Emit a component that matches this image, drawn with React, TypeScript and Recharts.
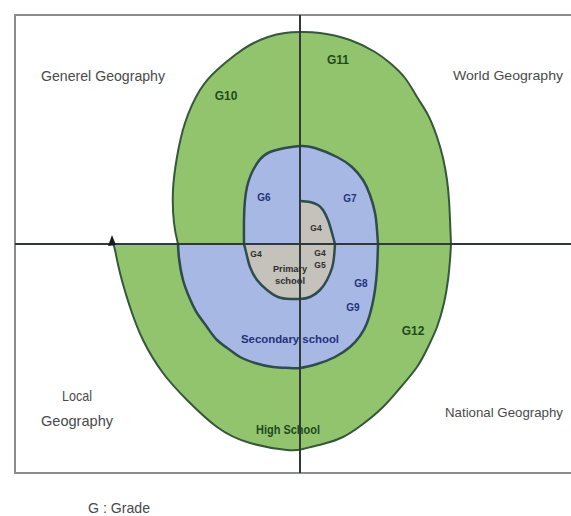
import React from "react";
import {
  ComposedChart,
  Area,
  Scatter,
  XAxis,
  YAxis,
  ReferenceLine,
  ReferenceArea,
} from "recharts";

// spiral edges; origin where the two axes cross, y up.
// points follow the edge in drawing order (natural curve is parametric)
const greenTop = [
  { x: -122, y: 0 }, { x: -126, y: 21 }, { x: -127, y: 54 }, { x: -123, y: 87 },
  { x: -115, y: 121 }, { x: -100, y: 154 }, { x: -83, y: 174 },
  { x: -65, y: 189 }, { x: -50, y: 199 }, { x: -32, y: 207 }, { x: -15, y: 211 },
  { x: 0, y: 212 }, { x: 20, y: 211 }, { x: 50, y: 204 }, { x: 75, y: 192 },
  { x: 90, y: 181 }, { x: 105, y: 166 }, { x: 117, y: 147 }, { x: 128, y: 129 },
  { x: 137, y: 107 }, { x: 143, y: 86 }, { x: 147, y: 64 }, { x: 149, y: 44 },
  { x: 150, y: 24 }, { x: 151, y: 0 },
];
const greenBottom = [
  { x: -187, y: 0 }, { x: -185, y: -6 }, { x: -180, y: -29 }, { x: -170, y: -63 },
  { x: -157, y: -96 }, { x: -137, y: -129 }, { x: -113, y: -156 }, { x: -83, y: -183 },
  { x: -50, y: -199 }, { x: -13, y: -206 }, { x: 3, y: -205 }, { x: 23, y: -200 },
  { x: 43, y: -193 }, { x: 63, y: -180 }, { x: 83, y: -163 }, { x: 100, y: -144 },
  { x: 117, y: -123 }, { x: 128, y: -103 }, { x: 137, y: -83 }, { x: 144, y: -59 },
  { x: 148, y: -36 }, { x: 150, y: -16 }, { x: 151, y: 0 },
];
const blueTop = [
  { x: -56, y: 0 }, { x: -56, y: 24 }, { x: -53, y: 57 }, { x: -42, y: 82 },
  { x: -30, y: 92 }, { x: -15, y: 96 }, { x: 0, y: 98 },
  { x: 15, y: 96 }, { x: 37, y: 87 }, { x: 52, y: 77 }, { x: 63, y: 64 },
  { x: 70, y: 49 }, { x: 75, y: 31 }, { x: 77, y: 14 }, { x: 78, y: 0 },
];
const blueBottom = [
  { x: -122, y: 0 }, { x: -121, y: -14 }, { x: -117, y: -36 }, { x: -110, y: -55 },
  { x: -103, y: -69 }, { x: -93, y: -83 }, { x: -83, y: -96 }, { x: -70, y: -106 },
  { x: -60, y: -113 }, { x: -45, y: -119 }, { x: -27, y: -123 }, { x: -10, y: -124 },
  { x: 0, y: -124 }, { x: 17, y: -120 }, { x: 35, y: -113 }, { x: 50, y: -103 },
  { x: 60, y: -92 }, { x: 67, y: -79 }, { x: 72, y: -62 }, { x: 75, y: -46 },
  { x: 77, y: -26 }, { x: 78, y: 0 },
];
const grayTop = [
  { x: 0, y: 43 }, { x: 10, y: 42 }, { x: 18, y: 39 }, { x: 23, y: 34 },
  { x: 28, y: 24 }, { x: 32, y: 11 }, { x: 35, y: 0 },
];
const grayBottom = [
  { x: -56, y: 0 }, { x: -53, y: -12 }, { x: -50, y: -23 }, { x: -43, y: -36 },
  { x: -33, y: -46 }, { x: -22, y: -53 }, { x: -10, y: -55 }, { x: 0, y: -55 },
  { x: 10, y: -53 }, { x: 20, y: -46 }, { x: 27, y: -36 }, { x: 32, y: -24 },
  { x: 34, y: -13 }, { x: 35, y: 0 },
];
const spiralEnd = [{ x: -187, y: 0 }];

// labels
const quadrantLabels = [
  { x: -197, y: 169, t: "Generel Geography" },
  { x: -223, y: -151, t: "Local" },
  { x: -223, y: -176, t: "Geography" },
  { x: -181, y: -263, t: "G : Grade" },
];
const rightLabels = [
  { x: 208, y: 169, t: "World Geography" },
  { x: 204, y: -168, t: "National Geography" },
];
const highLabels = [
  { x: -74, y: 148, t: "G10" },
  { x: 38, y: 184, t: "G11" },
  { x: 113, y: -87, t: "G12" },
  { x: -12, y: -186, t: "High School" },
];
const secondaryLabels = [
  { x: -36, y: 47, t: "G6" },
  { x: 50, y: 46, t: "G7" },
  { x: 61, y: -39, t: "G8" },
  { x: 53, y: -63, t: "G9" },
  { x: -10, y: -95, t: "Secondary school" },
];
const primaryLabels = [
  { x: 16, y: 16, t: "G4" },
  { x: -44, y: -10, t: "G4" },
  { x: 20, y: -9, t: "G4" },
  { x: 20, y: -21, t: "G5" },
  { x: -10, y: -25, t: "Primary" },
  { x: -10, y: -37, t: "school" },
];

const textWidth: Record<string, number> = {
  "Generel Geography": 124,
  "World Geography": 110,
  "National Geography": 118,
  Local: 30,
  Geography: 72,
  "G : Grade": 62,
  "High School": 64,
  "Secondary school": 98,
  Primary: 34,
  school: 30,
};

const makeLabel =
  (fill: string, size: number, weight: string | number) => (props: any) => {
    const { cx, cy, payload } = props;
    const w = textWidth[payload.t];
    return (
      <text
        x={cx}
        y={cy}
        textAnchor="middle"
        dominantBaseline="central"
        fill={fill}
        fontSize={size}
        fontWeight={weight}
        fontFamily="'Liberation Sans Narrow', 'Liberation Sans', Arial, sans-serif"
        textLength={w}
        lengthAdjust={w ? "spacingAndGlyphs" : undefined}
      >
        {payload.t}
      </text>
    );
  };

const arrowHead = (props: any) => {
  const { cx, cy } = props;
  return (
    <path
      d={`M${cx - 1},${cy - 9} L${cx - 5},${cy + 2} L${cx + 3},${cy + 1} Z`}
      fill="#1a1a1a"
    />
  );
};

const EDGE = "#2e4b4e";
const GREEN_EDGE = "#35573a";

export default function App() {
  return (
    <div style={{ position: "absolute", left: 0, top: 0, background: "#fff" }}>
      <ComposedChart width={571} height={516} margin={{ top: 0, right: 0, bottom: 0, left: 0 }}>
        <XAxis dataKey="x" type="number" domain={[-300, 271]} allowDataOverflow hide />
        <YAxis dataKey="y" type="number" domain={[-272, 244]} allowDataOverflow hide />
        <ReferenceArea
          x1={-285}
          x2={285}
          y1={-229}
          y2={229}
          fill="none"
          stroke="#8c8c8c"
          strokeWidth={2}
          ifOverflow="visible"
        />
        <Area data={greenTop} dataKey="y" type="natural" baseValue={0} fill="#92c46e" fillOpacity={1} stroke={GREEN_EDGE} strokeWidth={2} dot={false} activeDot={false} isAnimationActive={false} />
        <Area data={greenBottom} dataKey="y" type="natural" baseValue={0} fill="#92c46e" fillOpacity={1} stroke={GREEN_EDGE} strokeWidth={2} dot={false} activeDot={false} isAnimationActive={false} />
        <Area data={blueTop} dataKey="y" type="natural" baseValue={0} fill="#a8b8e4" fillOpacity={1} stroke={EDGE} strokeWidth={2.5} dot={false} activeDot={false} isAnimationActive={false} />
        <Area data={blueBottom} dataKey="y" type="natural" baseValue={0} fill="#a8b8e4" fillOpacity={1} stroke={EDGE} strokeWidth={2.5} dot={false} activeDot={false} isAnimationActive={false} />
        <Area data={grayTop} dataKey="y" type="natural" baseValue={0} fill="#c5c1bb" fillOpacity={1} stroke={EDGE} strokeWidth={2.5} dot={false} activeDot={false} isAnimationActive={false} />
        <Area data={grayBottom} dataKey="y" type="natural" baseValue={0} fill="#c5c1bb" fillOpacity={1} stroke={EDGE} strokeWidth={2.5} dot={false} activeDot={false} isAnimationActive={false} />
        <ReferenceLine
          segment={[{ x: 0, y: 229 }, { x: 0, y: -229 }]}
          stroke="#2f3a3a"
          strokeWidth={2}
          ifOverflow="visible"
        />
        <ReferenceLine
          segment={[{ x: -285, y: 0 }, { x: 285, y: 0 }]}
          stroke="#2f3a3a"
          strokeWidth={2}
          ifOverflow="visible"
        />
        <Scatter data={spiralEnd} shape={arrowHead} isAnimationActive={false} />
        <Scatter data={quadrantLabels} shape={makeLabel("#4a4a4a", 15, "normal")} isAnimationActive={false} />
        <Scatter data={rightLabels} shape={makeLabel("#4a4a4a", 13, "normal")} isAnimationActive={false} />
        <Scatter data={highLabels} shape={makeLabel("#1f4a1c", 12, "bold")} isAnimationActive={false} />
        <Scatter data={secondaryLabels} shape={makeLabel("#22337a", 10, "bold")} isAnimationActive={false} />
        <Scatter data={primaryLabels} shape={makeLabel("#2e2e2e", 8.5, "bold")} isAnimationActive={false} />
      </ComposedChart>
    </div>
  );
}
